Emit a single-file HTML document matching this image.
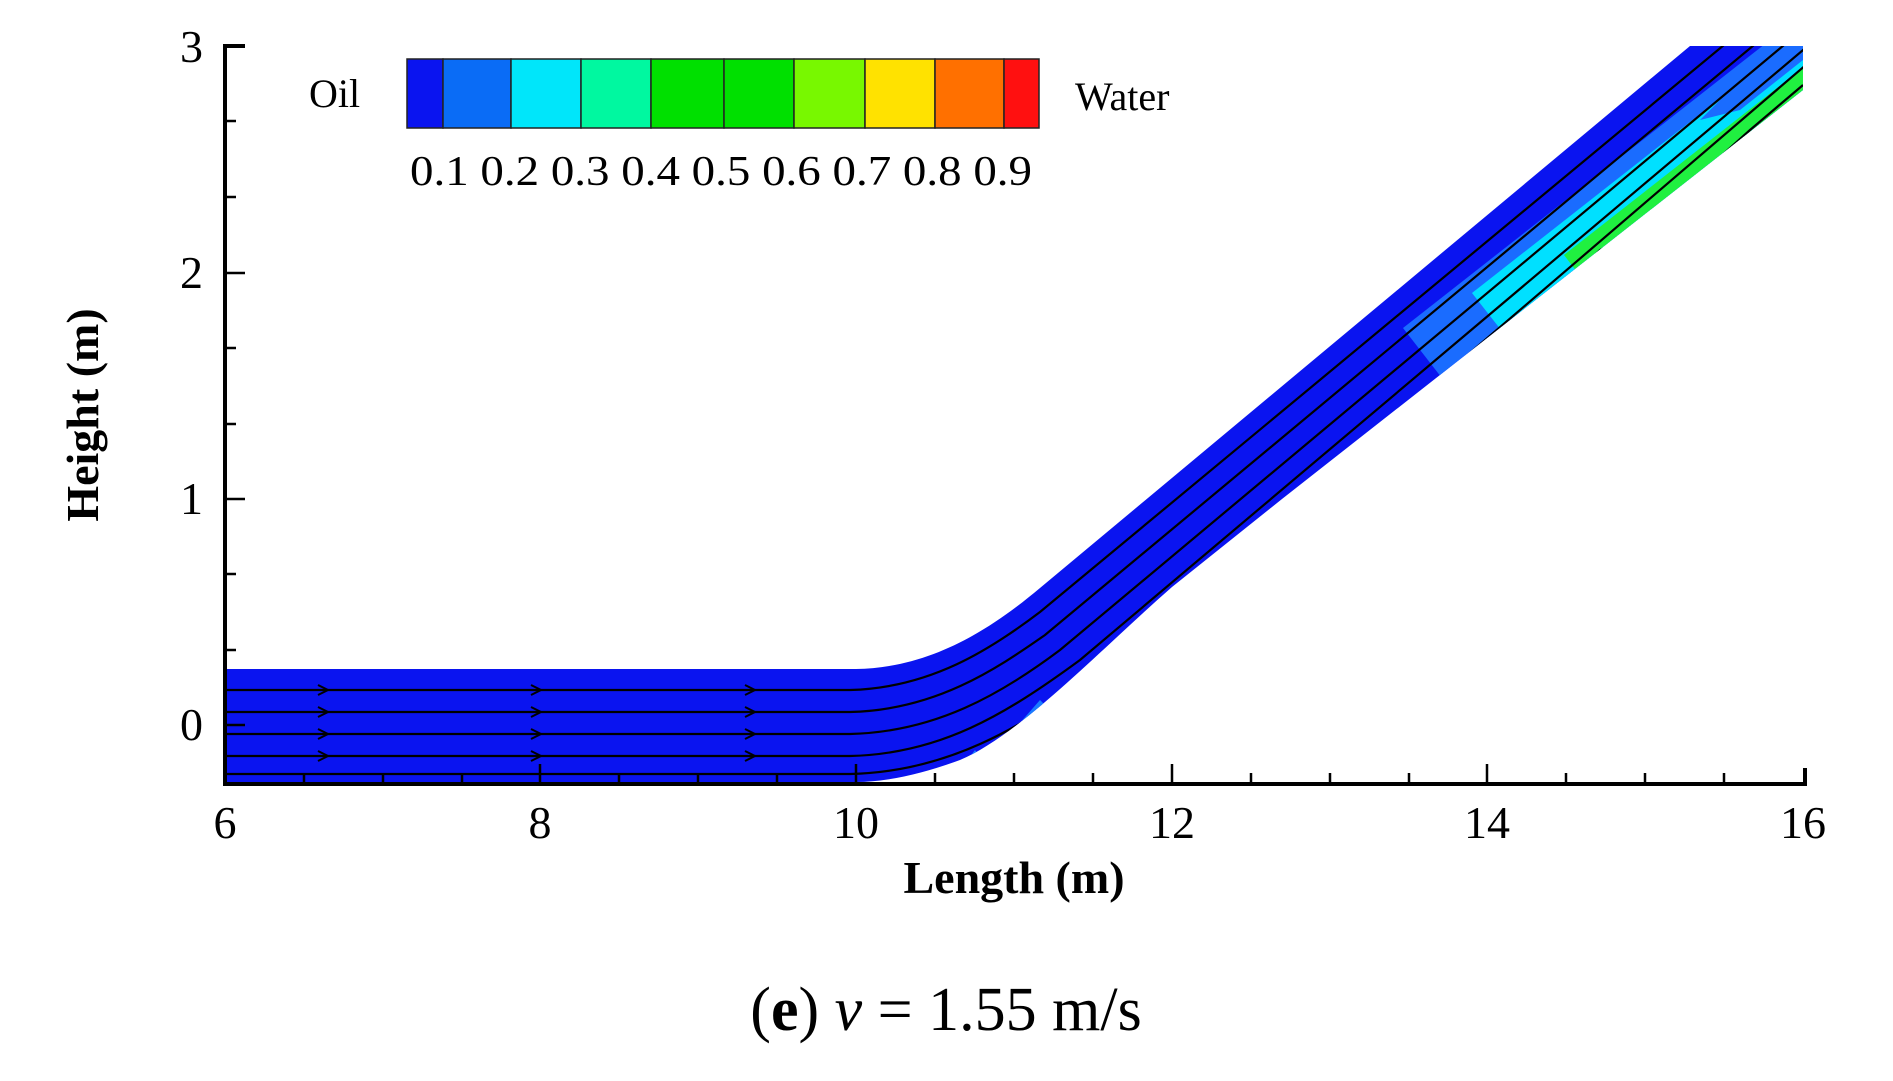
<!DOCTYPE html>
<html><head><meta charset="utf-8"><style>
body{margin:0;background:#fff;}
svg{display:block;}
text{font-family:"Liberation Serif",serif;fill:#000;}
</style></head><body>
<svg width="1893" height="1081" viewBox="0 0 1893 1081">
<defs>
<clipPath id="pipe"><path d="M225,669 L856,669 C930,668 990,630 1040,588 L1690,46 L1803,46 L1803,90 L1282,499 L1172,587 C1100,650 1020,735 960,760 Q900,782 856,782 L225,782 Z"/></clipPath>
</defs>
<g clip-path="url(#pipe)">
<rect x="0" y="0" width="1893" height="1081" fill="#0a14f0"/>
<path d="M1452,391 L1842,85 L1793,22 L1403,328 Z" fill="#1a6cff"/>
<path d="M1512,344 L1842,85 L1802,34 L1472,293 Z" fill="#00e0ff"/>
<path d="M1587,285 L1842,85 L1819,55 L1564,255 Z" fill="#20f040"/>
<path d="M1700,120 L1760,60 L1790,40 L1803,40 L1803,60 L1740,110 Z" fill="#1a6cff"/>
<path d="M1005,740 L1040,700 L1060,720 L1020,760 Z" fill="#1a7cff"/>
<path d="M960,770 L975,750 L985,765 Z" fill="#1a7cff"/>
<path d="M850,790 L920,775 L960,790 Z" fill="#00e6ff"/>
<g fill="none" stroke="#000" stroke-width="2.2">
<path d="M225,690 L850,690 C930,688 990,650 1040,612 L1730,40"/>
<path d="M225,712 L850,712 C935,710 995,670 1045,635 L1760,40"/>
<path d="M225,734 L850,734 C935,732 1000,695 1060,650 L1790,40"/>
<path d="M225,756 L850,756 C940,754 1005,715 1080,660 L1815,40"/>
<path d="M225,774 L850,774 C945,772 1020,730 1100,670 L1835,40"/>
<path d="M1500,330 L1560,290 L1600,270 L1640,230 L1690,205 L1730,160 L1770,135 L1803,105"/>
<path d="M1560,290 L1600,250 L1650,225 L1700,175 L1750,130 L1803,85"/>
</g>
<g fill="none" stroke="#000" stroke-width="2">
<path d="M318,685 l10,5 l-10,5 M531,685 l10,5 l-10,5 M745,685 l10,5 l-10,5"/>
<path d="M318,707 l10,5 l-10,5 M531,707 l10,5 l-10,5 M745,707 l10,5 l-10,5"/>
<path d="M318,729 l10,5 l-10,5 M531,729 l10,5 l-10,5 M745,729 l10,5 l-10,5"/>
<path d="M318,751 l10,5 l-10,5 M531,751 l10,5 l-10,5 M745,751 l10,5 l-10,5"/>
</g>
</g>
<g stroke="#000" stroke-width="4" fill="none">
<path d="M225,44 L225,784 L1805,784 L1805,768"/>
<path d="M225,46 L245,46"/>
</g>
<g stroke="#000" stroke-width="2.5">
<path d="M540,784 v-20 M856,784 v-20 M1172,784 v-20 M1487,784 v-20"/>
<path d="M304,784 v-11 M383,784 v-11 M462,784 v-11 M619,784 v-11 M698,784 v-11 M777,784 v-11 M935,784 v-11 M1014,784 v-11 M1093,784 v-11 M1251,784 v-11 M1330,784 v-11 M1409,784 v-11 M1566,784 v-11 M1645,784 v-11 M1724,784 v-11"/>
<path d="M225,725 h20 M225,499 h20 M225,273 h20"/>
<path d="M225,121 h11 M225,197 h11 M225,348 h11 M225,424 h11 M225,574 h11 M225,650 h11"/>
</g>
<g font-size="46" text-anchor="middle">
<text x="225" y="838">6</text><text x="540" y="838">8</text><text x="856" y="838">10</text>
<text x="1172" y="838">12</text><text x="1487" y="838">14</text><text x="1803" y="838">16</text>
</g>
<g font-size="46" text-anchor="end">
<text x="203" y="62">3</text><text x="203" y="288">2</text><text x="203" y="514">1</text><text x="203" y="740">0</text>
</g>
<text x="1014" y="893" font-size="46" font-weight="bold" text-anchor="middle">Length (m)</text>
<text transform="translate(98,415) rotate(-90)" font-size="46" font-weight="bold" text-anchor="middle">Height (m)</text>
<g stroke="#222" stroke-width="1.5">
<rect x="407" y="59" width="36" height="69" fill="#0a14f0"/>
<rect x="443" y="59" width="68" height="69" fill="#0a6cf6"/>
<rect x="511" y="59" width="70" height="69" fill="#00e6fa"/>
<rect x="581" y="59" width="70" height="69" fill="#00f8a0"/>
<rect x="651" y="59" width="73" height="69" fill="#00e000"/>
<rect x="724" y="59" width="70" height="69" fill="#00e000"/>
<rect x="794" y="59" width="71" height="69" fill="#78f800"/>
<rect x="865" y="59" width="70" height="69" fill="#ffe200"/>
<rect x="935" y="59" width="69" height="69" fill="#ff7000"/>
<rect x="1004" y="59" width="35" height="69" fill="#ff1010"/>
</g>
<text x="309" y="107" font-size="40">Oil</text>
<text x="1075" y="110" font-size="40">Water</text>
<text x="410" y="185" font-size="42" textLength="622" lengthAdjust="spacingAndGlyphs">0.1 0.2 0.3 0.4 0.5 0.6 0.7 0.8 0.9</text>
<text x="946" y="1030" font-size="62" text-anchor="middle">(<tspan font-weight="bold">e</tspan>) <tspan font-style="italic">v</tspan> = 1.55 m/s</text>
</svg>
</body></html>
